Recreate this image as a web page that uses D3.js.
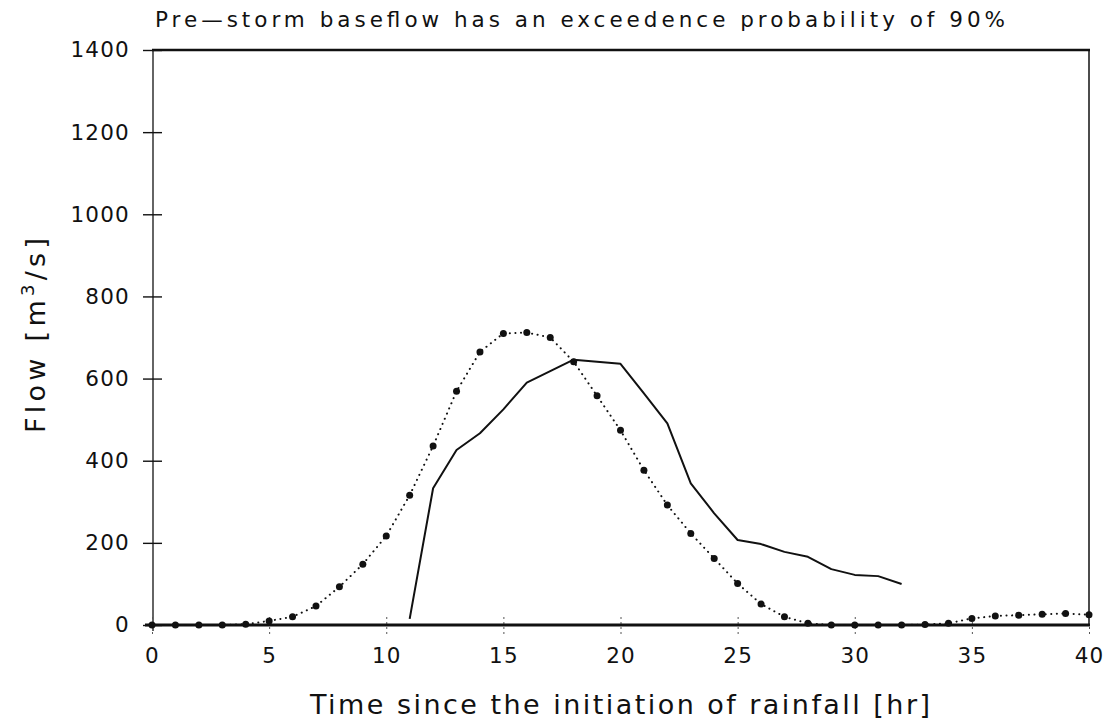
<!DOCTYPE html>
<html><head><meta charset="utf-8">
<script src="https://cdn.jsdelivr.net/npm/d3@7"></script>
<style>
html,body{margin:0;padding:0;background:#fff;}
text{font-family:"DejaVu Sans","Liberation Sans",sans-serif;fill:#111;}
</style></head>
<body>
<svg id="c" width="1116" height="725"></svg>
<script>
// Data
const hoursObserved = [11,12,13,14,15,16,17,18,19,20,21,22,23,24,25,26,27,28,29,30,31,32];
const flowObserved  = [15,333,426,467,525,590,618,646,641,636,564,491,345,272,207,197,178,166,136,122,119,100];
const hoursSimulated = [0,1,2,3,4,5,6,7,8,9,10,11,12,13,14,15,16,17,18,19,20,21,22,23,24,25,26,27,28,29,30,31,32,33,34,35,36,37,38,39,40];
const flowSimulated  = [0,0,0,0,2,10,20,46,93,148,217,316,436,569,665,710,712,700,641,558,474,377,292,223,162,101,51,20,4,0,0,0,0,1,4,16,22,24,26,28,25];
const xTicks = [0,5,10,15,20,25,30,35,40];
const yTicks = [0,200,400,600,800,1000,1200,1400];
const titleText = "Pre\u2014storm baseflow has an exceedence probability of 90%";
const xLabel = "Time since the initiation of rainfall [hr]";

const svg = d3.select("#c");
svg.append("rect").attr("width",1116).attr("height",725).attr("fill","#fff");

const x = d3.scaleLinear().domain([0,40]).range([152,1089]);
const y = d3.scaleLinear().domain([0,1400]).range([625,50]);

// Title
svg.append("text").attr("x",155).attr("y",27)
  .attr("font-size",21.5).attr("textLength",850).attr("lengthAdjust","spacing")
  .text(titleText);

// Frame
svg.append("line").attr("x1",x(0)).attr("x2",x(40)+1).attr("y1",y(1400)).attr("y2",y(1400))
  .attr("stroke","#111").attr("stroke-width",2.4);
svg.append("line").attr("x1",x(40)).attr("x2",x(40)).attr("y1",y(1400)).attr("y2",y(0))
  .attr("stroke","#111").attr("stroke-width",1.5);
svg.append("line").attr("x1",x(0)+1).attr("x2",x(0)+1).attr("y1",y(1400)).attr("y2",y(0)+6)
  .attr("stroke","#111").attr("stroke-width",1.3);

// Y axis
const gy = svg.append("g").attr("transform",`translate(${x(0)+1},0)`)
  .call(d3.axisLeft(y).tickValues(yTicks).tickFormat(d3.format("d")).tickSize(10).tickPadding(13));
gy.select(".domain").remove();
gy.selectAll(".tick line").attr("x1",-10).attr("x2",9).attr("stroke","#111").attr("stroke-width",1.4);
gy.selectAll(".tick text").attr("font-size",21.5).attr("letter-spacing",1.2)
  .attr("font-family","DejaVu Sans").attr("fill","#111");

// X axis
const gx = svg.append("g").attr("transform",`translate(0,${y(0)})`)
  .call(d3.axisBottom(x).tickValues(xTicks).tickSize(8));
gx.select(".domain").remove();
gx.selectAll(".tick line").attr("y1",-8).attr("y2",10).attr("stroke","#555")
  .attr("stroke-width",1).attr("stroke-dasharray","2,3");
gx.selectAll(".tick text").attr("y",38).attr("dy",0).attr("font-size",21.5).attr("letter-spacing",1.2)
  .attr("font-family","DejaVu Sans").attr("fill","#111");

// Bottom axis line (thick)
svg.append("line").attr("x1",x(0)-7).attr("x2",x(40)+1).attr("y1",y(0)).attr("y2",y(0))
  .attr("stroke","#111").attr("stroke-width",3);

// Axis titles
svg.append("text").attr("x",310).attr("y",714).attr("font-size",27)
  .attr("textLength",620).attr("lengthAdjust","spacing").text(xLabel);

const yt = svg.append("text").attr("transform","translate(45,433) rotate(-90)")
  .attr("font-size",27).attr("textLength",195).attr("lengthAdjust","spacing");
yt.append("tspan").text("Flow [m");
yt.append("tspan").attr("dy",-11).attr("font-size",18).text("3");
yt.append("tspan").attr("dy",11).text("/s]");

// Simulated (dotted with dots)
const sim = hoursSimulated.map((h,i)=>[h,flowSimulated[i]]);
const obs = hoursObserved.map((h,i)=>[h,flowObserved[i]]);
const line = d3.line().x(d=>x(d[0])).y(d=>y(d[1]));

svg.append("path").attr("d",line(sim)).attr("fill","none").attr("stroke","#111")
  .attr("stroke-width",2).attr("stroke-linecap","round").attr("stroke-dasharray","0.1,5.5");
svg.selectAll("circle.sim").data(sim).enter().append("circle").attr("class","sim")
  .attr("cx",d=>x(d[0])).attr("cy",d=>y(d[1])).attr("r",3.5).attr("fill","#111");

// Observed (solid)
svg.append("path").attr("d",line(obs)).attr("fill","none").attr("stroke","#111")
  .attr("stroke-width",2).attr("stroke-linejoin","round");
</script>
</body></html>
